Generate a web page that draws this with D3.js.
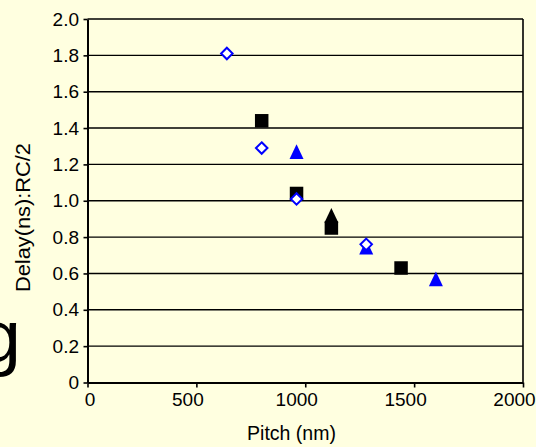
<!DOCTYPE html>
<html>
<head>
<meta charset="utf-8">
<script src="https://cdn.jsdelivr.net/npm/d3@7"></script>
<style>
  html, body { margin: 0; padding: 0; background: #ffffe0; }
  svg { display: block; }
  text { font-family: "Liberation Sans", Arial, sans-serif; fill: #000; }
</style>
</head>
<body>
<svg id="chart" width="536" height="447"></svg>
<script>
// ---- data ----
const xTickValues = [0, 500, 1000, 1500, 2000];
const xTickLabels = ["0", "500", "1000", "1500", "2000"];
const yTickValues = [0, 0.2, 0.4, 0.6, 0.8, 1.0, 1.2, 1.4, 1.6, 1.8, 2.0];
const yTickLabels = ["0", "0.2", "0.4", "0.6", "0.8", "1.0", "1.2", "1.4", "1.6", "1.8", "2.0"];

const squarePitch = [800, 960, 1120, 1440];
const squareDelay = [1.44, 1.04, 0.85, 0.63];
const blackTriPitch = [1120];
const blackTriDelay = [0.92];
const blueTriPitch = [960, 1280, 1600];
const blueTriDelay = [1.27, 0.745, 0.57];
const diamondPitch = [640, 800, 960, 1280];
const diamondDelay = [1.81, 1.29, 1.01, 0.76];

const xTitle = "Pitch (nm)";
const yTitle = "Delay(ns):RC/2";
const bigLetter = "g";

// ---- layout ----
const svg = d3.select("#chart");
const W = 536, H = 447;
const plotL = 87.5, plotR = 523, plotT = 19, plotB = 382.5;

svg.append("rect").attr("width", W).attr("height", H).attr("fill", "#ffffe0");

const x = d3.scaleLinear().domain([0, 2000]).range([plotL, plotR]);
const y = d3.scaleLinear().domain([0, 2]).range([plotB, plotT]);

// big clipped letter from the slide
svg.append("text").attr("x", 21).attr("y", 362).attr("text-anchor", "end")
  .attr("font-size", 75).text(bigLetter);

// gridlines
svg.append("g").selectAll("line").data(yTickValues.filter(v => v > 0)).join("line")
  .attr("x1", plotL).attr("x2", plotR)
  .attr("y1", d => y(d)).attr("y2", d => y(d))
  .attr("stroke", "#000").attr("stroke-width", 1.4);

// right border
svg.append("line").attr("x1", plotR).attr("x2", plotR).attr("y1", plotT).attr("y2", plotB)
  .attr("stroke", "#000").attr("stroke-width", 1.6);

// y axis
const yAxis = d3.axisLeft(y).tickValues(yTickValues).tickSize(4).tickSizeOuter(0)
  .tickFormat((d, i) => yTickLabels[i]);
const gy = svg.append("g").attr("transform", `translate(${plotL},0)`).call(yAxis);
gy.select(".domain").attr("stroke", "#000").attr("stroke-width", 2);
gy.selectAll(".tick line").attr("stroke", "#000").attr("stroke-width", 1.6);
gy.selectAll(".tick text").attr("font-size", 19).attr("x", -8.5)
  .style("font-family", '"Liberation Sans", Arial, sans-serif').attr("fill", "#000");

// x axis
const xAxis = d3.axisBottom(x).tickValues(xTickValues).tickSize(5).tickSizeOuter(0)
  .tickFormat((d, i) => xTickLabels[i]);
const gx = svg.append("g").attr("transform", `translate(0,${plotB})`).call(xAxis);
gx.select(".domain").attr("stroke", "#000").attr("stroke-width", 2);
gx.selectAll(".tick line").attr("stroke", "#000").attr("stroke-width", 1.6);
gx.selectAll(".tick text").attr("font-size", 19).attr("y", 10)
  .attr("dx", d => d === 0 ? 2 : -9)
  .style("font-family", '"Liberation Sans", Arial, sans-serif').attr("fill", "#000");

// axis titles
svg.append("text").attr("x", 291.5).attr("y", 440).attr("text-anchor", "middle")
  .attr("font-size", 19.5).text(xTitle);
svg.append("text").attr("transform", "translate(29.5,217.5) rotate(-90)")
  .attr("text-anchor", "middle").attr("font-size", 19.5)
  .attr("textLength", 149).attr("lengthAdjust", "spacingAndGlyphs").text(yTitle);

// ---- marker shapes ----
const squareType = { draw(ctx, size) { const s = Math.sqrt(size) / 2;
  ctx.moveTo(-s, -s); ctx.lineTo(s, -s); ctx.lineTo(s, s); ctx.lineTo(-s, s); ctx.closePath(); } };
const diamondType = { draw(ctx, size) { const s = Math.sqrt(size) / 2;
  ctx.moveTo(0, -s); ctx.lineTo(s, 0); ctx.lineTo(0, s); ctx.lineTo(-s, 0); ctx.closePath(); } };
const triType = { draw(ctx, size) { const s = Math.sqrt(size) / 2;
  ctx.moveTo(0, -s * 1.05); ctx.lineTo(s, s * 1.05); ctx.lineTo(-s, s * 1.05); ctx.closePath(); } };

function drawSeries(px, py, type, size, fill, stroke, sw) {
  const pts = px.map((p, i) => [p, py[i]]);
  svg.append("g").selectAll("path").data(pts).join("path")
    .attr("transform", d => `translate(${x(d[0])},${y(d[1])})`)
    .attr("d", d3.symbol().type(type).size(size)())
    .attr("fill", fill).attr("stroke", stroke).attr("stroke-width", sw);
}

drawSeries(squarePitch, squareDelay, squareType, 13.5 * 13.5, "#000", "none", 0);
drawSeries(blackTriPitch, blackTriDelay, triType, 14 * 14, "#000", "none", 0);
drawSeries(blueTriPitch, blueTriDelay, triType, 14 * 14, "#0000ff", "none", 0);
drawSeries(diamondPitch, diamondDelay, diamondType, 11.5 * 11.5, "#ffffff", "#0000ff", 2);
</script>
</body>
</html>
